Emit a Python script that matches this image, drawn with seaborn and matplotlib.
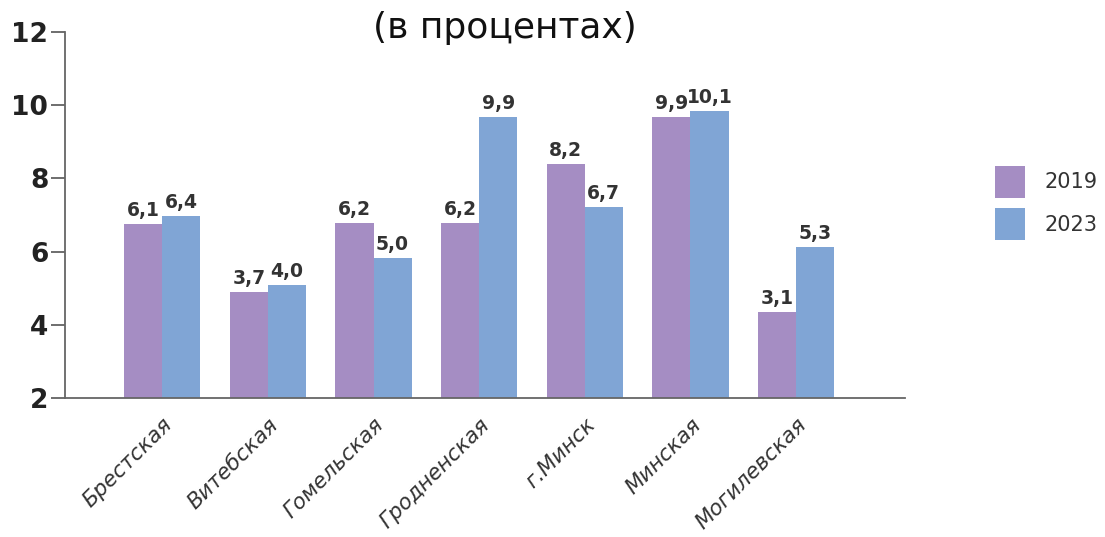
import matplotlib
matplotlib.use("Agg")
import matplotlib.pyplot as plt
import seaborn as sns
import pandas as pd

regions = ["Брестская", "Витебская", "Гомельская", "Гродненская", "г.Минск", "Минская", "Могилевская"]
years = ["2019", "2023"]
# bar heights as drawn in the picture
heights_2019 = [6.75, 4.9, 6.78, 6.78, 8.39, 9.68, 4.35]
heights_2023 = [6.97, 5.09, 5.83, 9.68, 7.22, 9.84, 6.13]
# value labels printed above the bars
labels_2019 = ["6,1", "3,7", "6,2", "6,2", "8,2", "9,9", "3,1"]
labels_2023 = ["6,4", "4,0", "5,0", "9,9", "6,7", "10,1", "5,3"]
yticks = [2, 4, 6, 8, 10, 12]

df = pd.DataFrame({
    "region": regions * 2,
    "year": [years[0]] * len(regions) + [years[1]] * len(regions),
    "value": heights_2019 + heights_2023,
})

sns.set_theme(style="white")
plt.rcParams["font.family"] = ["DejaVu Sans"]

fig = plt.figure(figsize=(11.05, 5.37), dpi=100)
ax = fig.add_axes([0.0588, 0.2588, 0.7602, 0.6816])

palette = {"2019": "#A58DC3", "2023": "#80A5D5"}
sns.barplot(data=df, x="region", y="value", hue="year", palette=palette,
            width=0.72, saturation=1, ax=ax, legend=True, linewidth=0)

for cont, labs in zip(ax.containers, [labels_2019, labels_2023]):
    ax.bar_label(cont, labels=labs, padding=3, fontsize=13.5, color="#333333",
                 fontweight="semibold")

ax.set_ylim(2, 12)
ax.set_xlim(-0.92, 7.03)
ax.set_yticks(yticks)
ax.set_yticklabels([str(t) for t in yticks], fontsize=19, fontweight="bold", color="#222222")
ax.set_xlabel("")
ax.set_ylabel("")
ax.set_xticks(range(len(regions)))
ax.set_xticklabels(regions, rotation=45, ha="right", rotation_mode="anchor",
                   fontsize=15.5, style="italic", color="#333333")
ax.tick_params(axis="x", length=0, pad=12)
ax.tick_params(axis="y", length=10, width=1.2, color="#555555", direction="out", pad=2, left=True)

for s in ["top", "right"]:
    ax.spines[s].set_visible(False)
for s in ["left", "bottom"]:
    ax.spines[s].set_color("#666666")
    ax.spines[s].set_linewidth(1.3)

leg = ax.legend(loc="center left", bbox_to_anchor=(1.085, 0.533), frameon=False,
                fontsize=15, handlelength=1.45, handleheight=2.0, labelspacing=0.5,
                handletextpad=0.9)
for t in leg.get_texts():
    t.set_color("#333333")

fig.text(0.457, 0.948, "(в процентах)", ha="center", va="center", fontsize=26,
         color="#111111")

fig.savefig("out.png", dpi=100)
